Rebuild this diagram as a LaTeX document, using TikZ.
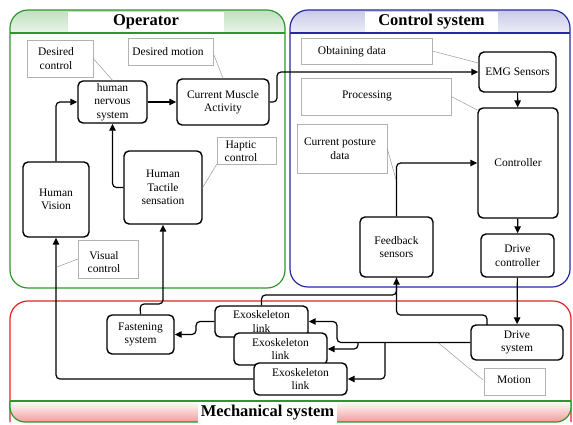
\documentclass[tikz,border=0pt]{standalone}
\usepackage{fontspec}
\setmainfont{Liberation Serif}
\usetikzlibrary{arrows.meta,calc}
\definecolor{opgreen}{RGB}{45,150,45}
\definecolor{csblue}{RGB}{40,40,165}
\definecolor{msred}{RGB}{225,35,35}
\begin{document}
\begin{tikzpicture}[x=1pt,y=-1pt,
  blk/.style={draw=black, line width=1.4pt, rounded corners=5pt, fill=white, align=center, inner sep=0pt, font=\fontsize{11.5}{13.5}\selectfont},
  note/.style={draw=black!30, line width=0.5pt, fill=white, inner sep=0pt},
  lbl/.style={align=center, inner sep=0pt, font=\fontsize{11.5}{13.5}\selectfont},
  arr/.style={line width=1.2pt, rounded corners=4pt, -{Triangle[length=7pt,width=6.5pt]}},
  conn/.style={line width=1.2pt, rounded corners=4pt},
  lead/.style={draw=black!40, line width=0.5pt},
  ttl/.style={fill=white, inner sep=0pt, font=\fontsize{16.5}{18}\selectfont\bfseries}
]
\useasboundingbox (0,0) rectangle (573,424);

% ---------- panels ----------
% Operator
\begin{scope}
  \clip[rounded corners=18pt] (10,10) rectangle (285,288);
  \shade[top color=opgreen!30, bottom color=opgreen!10] (10,10) rectangle (285,33);
\end{scope}
\draw[opgreen, line width=1.2pt, rounded corners=18pt] (10,10) rectangle (285,288);
\draw[opgreen, line width=1.2pt] (10,33) -- (285,33);
\node[ttl, minimum width=156, minimum height=20] (optitle) at (146,22) {Operator};

% Control system
\begin{scope}
  \clip[rounded corners=18pt] (290,10) rectangle (570,287);
  \shade[top color=csblue!25, bottom color=csblue!8] (290,10) rectangle (570,33);
\end{scope}
\draw[csblue, line width=1.2pt, rounded corners=18pt] (290,10) rectangle (570,287);
\draw[csblue, line width=1.2pt] (290,33) -- (570,33);
\node[ttl, minimum width=133, minimum height=20] (cstitle) at (431.5,22) {Control system};

% Mechanical system
\draw[msred, line width=1.2pt, rounded corners=18pt] (10,422) -- (10,301) -- (571,301) -- (571,422);
\begin{scope}
  \clip[rounded corners=15pt] (10,380) rectangle (571,422);
  \shade[top color=white, bottom color=msred!45] (10,401) rectangle (571,422);
\end{scope}
\draw[opgreen, line width=1.2pt, rounded corners=15pt] (10,401) -- (10,422) -- (571,422) -- (571,401);
\draw[opgreen, line width=1.2pt] (10,401) -- (571,401);
\node[ttl, minimum width=139, minimum height=21] (mstitle) at (267.5,412.5) {Mechanical system};

% ---------- callout notes ----------
\node[note, minimum width=66, minimum height=37] (dclbox) at (60,58.5) {};
\node[lbl] (dcl) at (56,58.5) {Desired\\control};
\node[note, minimum width=85, minimum height=27] (dmbox) at (170.5,51.5) {};
\node[lbl] (dm) at (168,52) {Desired motion};
\node[note, minimum width=59, minimum height=27] (hcbox) at (246.5,150.5) {};
\node[lbl] (hc) at (241,151) {Haptic\\control};
\node[note, minimum width=60, minimum height=38] (vcbox) at (108,259) {};
\node[lbl] (vc) at (104,262) {Visual\\control};
\node[note, minimum width=131, minimum height=26] (odbox) at (366.5,51) {};
\node[lbl] (od) at (352,52) {Obtaining data};
\node[note, minimum width=150, minimum height=37] (prbox) at (376,96.5) {};
\node[lbl] (pr) at (367,96) {Processing};
\node[note, minimum width=90, minimum height=49] (cpdbox) at (342,148.5) {};
\node[lbl] (cpd) at (340,148.5) {Current posture\\data};
\node[note, minimum width=61, minimum height=27] (mobox) at (514.5,381.5) {};
\node[lbl] (mo) at (514,380) {Motion};

% ---------- blocks ----------
\node[blk, minimum width=69, minimum height=42] (hns) at (112.5,102) {human\\nervous\\system};
\node[blk, minimum width=92, minimum height=46] (cma) at (223,102) {Current Muscle\\Activity};
\node[blk, minimum width=66, minimum height=75] (hv) at (56,199.5) {Human\\Vision};
\node[blk, minimum width=78, minimum height=73] (hts) at (163,187.5) {Human\\Tactile\\sensation};
\node[blk, minimum width=77, minimum height=40] (emg) at (517.5,72) {EMG Sensors};
\node[blk, minimum width=80, minimum height=110] (ctrl) at (518,163) {Controller};
\node[blk, minimum width=73, minimum height=60] (fs) at (396.5,247) {Feedback\\sensors};
\node[blk, minimum width=73, minimum height=43] (dc) at (517.5,255.5) {Drive\\controller};
\node[blk, minimum width=67, minimum height=39] (fast) at (140.5,334.5) {Fastening\\system};
\node[blk, minimum width=93, minimum height=31] (l1) at (261.5,321.5) {Exoskeleton\\link};
\node[blk, minimum width=93, minimum height=32] (l2) at (280.5,349) {Exoskeleton\\link};
\node[blk, minimum width=93, minimum height=32] (l3) at (300.5,379) {Exoskeleton\\link};
\node[blk, minimum width=92, minimum height=35] (ds) at (517,342.5) {Drive\\system};

% ---------- leader lines ----------
\coordinate (vcend) at (57,267);
\coordinate (cpdend) at (397,183);
\coordinate (moend) at (438,342.5);
\draw[lead] (dclbox.east) -- (hns.north);
\draw[lead] (214,55) -- (cma.north);
\draw[lead] (hcbox.south west) -- (hts.east);
\draw[lead] (vcbox.west) -- (vcend);
\draw[lead] (odbox.east) -- (emg.west |- 0,63);
\draw[lead] (prbox.east) -- (ctrl.north west |- 0,110);
\draw[lead] (cpdbox.east) -- (cpdend);
\draw[lead] (483,380) -- (moend);

% ---------- connectors ----------
\draw[arr] (hns) -- (cma);
\draw[arr] (hv.north) |- (hns.west);
\draw[arr] (hts.west) -| (hns.south);
\coordinate (cmaout) at (277,102);
\draw[arr] (cma.east) -- (cmaout) |- (emg.west);
\draw[arr] (emg) -- (ctrl);
\draw[arr] (fs.north) |- (ctrl.west);
\draw[arr] (ctrl) -- (dc);
\draw[arr] (dc) -- (ds);
\coordinate (dstop) at (487,325);
\coordinate (fbj) at (396.5,315);
\draw[arr] (dstop) |- (fbj) -- (fs.south);
\coordinate (l1j) at (396.5,295);
\draw[conn] (l1.north) |- (l1j) -- (fs.south);
\coordinate (fastj) at (140,304);
\draw[arr] (fast.north) -- (fastj) -| (hts.south);
\draw[arr] (l3.west) -| (hv.south);
\coordinate (l1in) at (196,321.5);
\draw[arr] (l1.west) -- (l1in) |- (fast.east);
\coordinate (dsl) at (337,342.5);
\draw[arr] (ds.west) -- (dsl) |- (l1.east);
\coordinate (b2) at (358,342.5);
\coordinate (b3) at (385,342.5);
\draw[arr] (b2) |- (l2.east);
\draw[arr] (b3) |- (l3.east);
\end{tikzpicture}
\end{document}
